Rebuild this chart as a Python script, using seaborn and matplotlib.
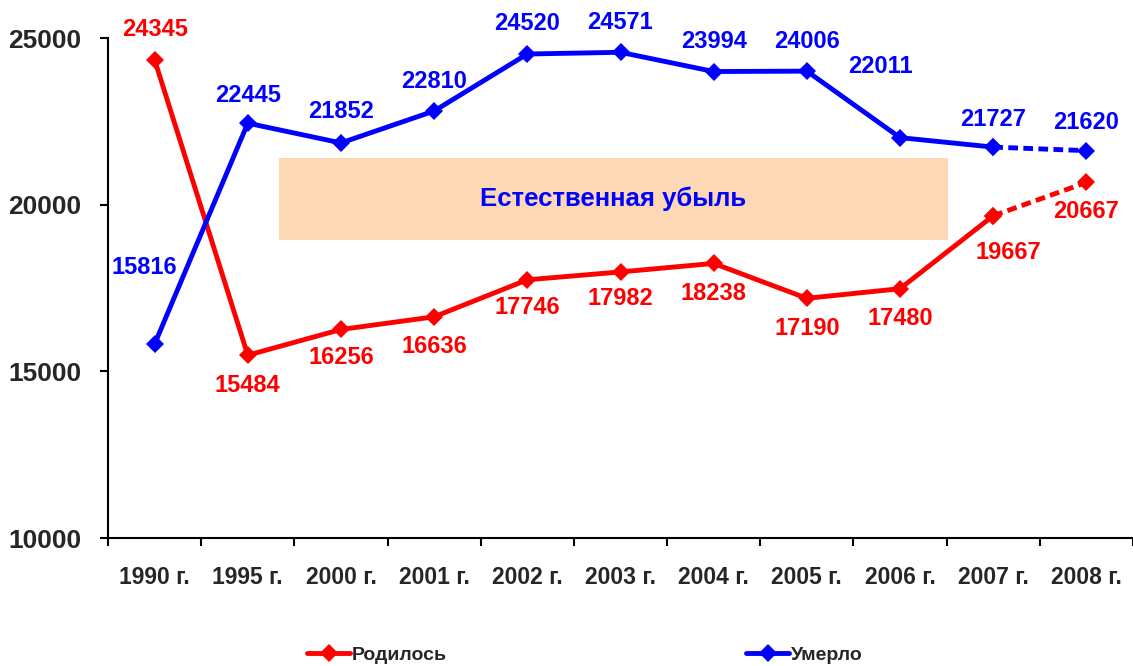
import numpy as np
import pandas as pd
import seaborn as sns
import matplotlib
matplotlib.use('Agg')
from matplotlib import pyplot as plt
from matplotlib.lines import Line2D
from matplotlib.patches import Rectangle
from matplotlib.ticker import FixedLocator

years = ['1990 г.', '1995 г.', '2000 г.', '2001 г.', '2002 г.', '2003 г.',
         '2004 г.', '2005 г.', '2006 г.', '2007 г.', '2008 г.']
born = [24345, 15484, 16256, 16636, 17746, 17982, 18238, 17190, 17480, 19667, 20667]
died = [15816, 22445, 21852, 22810, 24520, 24571, 23994, 24006, 22011, 21727, 21620]
series_names = ['Родилось', 'Умерло']
box_text = 'Естественная убыль'

# label offsets in pixels (dx, dy), +dy is up
born_off = [(0, 30), (0, -30), (0, -28), (0, -30), (0, -28), (0, -27),
            (0, -30), (0, -30), (0, -30), (15, -37), (0, -29)]
died_off = [(-10, 77), (0, 28), (0, 31), (0, 30), (0, 30), (0, 30),
            (0, 30), (0, 30), (-20, 71), (0, 28), (0, 28)]

sns.set_style('white')
plt.rcParams['font.family'] = ['Liberation Sans', 'DejaVu Sans']
plt.rcParams['font.weight'] = 'bold'

pos = np.arange(len(years))
df = pd.DataFrame({
    'pos': np.concatenate([pos, pos]),
    'value': born + died,
    'series': [series_names[0]] * len(pos) + [series_names[1]] * len(pos),
})
colors = {series_names[0]: '#FF0000', series_names[1]: '#0000FF'}

fig = plt.figure(figsize=(11.33, 6.66), dpi=100)
ax = fig.add_axes([108 / 1133, 128 / 666, 1025 / 1133, 500 / 666])

# background box
ax.add_patch(Rectangle((1.34, 18940), 8.51 - 1.34, 21400 - 18940,
                       facecolor='#FDD8B5', edgecolor='none', zorder=0))
ax.text((1.34 + 8.51) / 2, 20170, box_text, ha='center', va='center',
        color='#0000FF', fontsize=18.5, weight='bold')

for name in series_names:
    sub = df[df.series == name]
    c = colors[name]
    sns.lineplot(data=sub[sub.pos <= 9], x='pos', y='value', color=c, marker='D',
                 markersize=9, mec=c, mew=0, linewidth=3.5, ax=ax, legend=False, zorder=3)
    sns.lineplot(data=sub[sub.pos >= 9], x='pos', y='value', color=c, marker='D',
                 markersize=9, mec=c, mew=0, linewidth=3.5, linestyle=(0, (2, 1.1)),
                 ax=ax, legend=False, zorder=3)

for vals, offs, name in [(born, born_off, series_names[0]), (died, died_off, series_names[1])]:
    for i, v in enumerate(vals):
        dx, dy = offs[i]
        ax.annotate(str(v), (i, v), xytext=(dx, dy), textcoords='offset pixels',
                    ha='center', va='center', color=colors[name], fontsize=17,
                    weight='bold')

ax.set_xlim(-0.5, len(years) - 0.5)
ax.set_ylim(10000, 25000)
ax.set_yticks([10000, 15000, 20000, 25000])
ax.set_xticks(pos)
ax.set_xticklabels(years)
ax.xaxis.set_minor_locator(FixedLocator(np.arange(-0.5, len(years), 1.0)))
ax.set_xlabel('')
ax.set_ylabel('')

for side in ['top', 'right']:
    ax.spines[side].set_visible(False)
for side in ['left', 'bottom']:
    ax.spines[side].set_color('black')
    ax.spines[side].set_linewidth(1.5)

ax.tick_params(axis='y', which='major', direction='out', length=6, width=1.5,
               color='black', pad=13, left=True)
ax.tick_params(axis='x', which='major', length=0, pad=20)
ax.tick_params(axis='x', which='minor', direction='out', length=6, width=1.5,
               color='black', bottom=True)
for lab in ax.get_xticklabels():
    lab.set_fontsize(16.5)
    lab.set_fontweight('bold')
for lab in ax.get_yticklabels():
    lab.set_fontsize(19)
    lab.set_fontweight('bold')

handles = [Line2D([], [], color=colors[n], marker='D', markersize=9, mew=0,
                  linewidth=3.5) for n in series_names]
fig.legend(handles, series_names, loc='center', bbox_to_anchor=(585 / 1133, 1 - 655 / 666),
           ncol=2, frameon=False, handlelength=2.2, handletextpad=0.1,
           columnspacing=15.4, prop={'weight': 'bold', 'size': 14})

fig.savefig('out.png', dpi=100)
